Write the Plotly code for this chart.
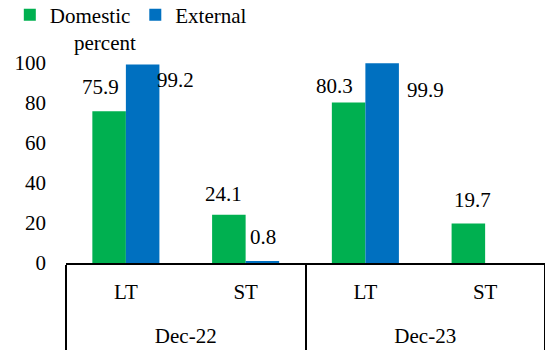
import plotly.graph_objects as go

periods = ["Dec-22", "Dec-22", "Dec-23", "Dec-23"]
terms = ["LT", "ST", "LT", "ST"]
domestic = [75.9, 24.1, 80.3, 19.7]
external = [99.2, 0.8, 99.9, None]
series_names = ["Domestic", "External"]
y_ticks = [0, 20, 40, 60, 80, 100]

GREEN = "#00B050"
BLUE = "#0070C0"
FONT = "Liberation Serif"
FS = 21

# extra blank line under the inner labels to space the outer level like the original
term_labels = [t + "<br> " for t in terms]

fig = go.Figure()
fig.add_trace(go.Bar(x=[periods, term_labels], y=domestic, name=series_names[0],
                     marker=dict(color=GREEN, line=dict(width=0))))
fig.add_trace(go.Bar(x=[periods, term_labels], y=external, name=series_names[1],
                     marker=dict(color=BLUE, line=dict(width=0))))

# label offsets (pixels) relative to category centre / bar top
g_dx = [-25, -22, -31, -13]
g_dy = [24, 21, 16, 24]
b_dx = [50, 17, 60, 0]
b_dy = [-15, 24, -27, 0]
n = len(terms)
ann = []
for i in range(n):
    ann.append(dict(x=(i + 0.5) / n, xref="paper", y=domestic[i], yref="y",
                    xanchor="center", yanchor="middle",
                    text=f"{domestic[i]:.1f}", showarrow=False,
                    xshift=g_dx[i], yshift=g_dy[i],
                    font=dict(family=FONT, size=FS, color="black")))
    if external[i] is not None:
        ann.append(dict(x=(i + 0.5) / n, xref="paper", y=external[i], yref="y",
                        xanchor="center", yanchor="middle",
                        text=f"{external[i]:.1f}", showarrow=False,
                        xshift=b_dx[i], yshift=b_dy[i],
                        font=dict(family=FONT, size=FS, color="black")))
ann.append(dict(x=(105 - 66) / 479, xref="paper", y=1.1, yref="paper",
                xanchor="center", yanchor="middle",
                text="percent", showarrow=False,
                font=dict(family=FONT, size=FS, color="black")))

fig.update_layout(
    width=545, height=352,
    margin=dict(l=66, r=0, t=63, b=89),
    paper_bgcolor="white", plot_bgcolor="white",
    font=dict(family=FONT, size=FS, color="black"),
    barmode="group", bargap=0.44, bargroupgap=0,
    showlegend=True,
    legend=dict(orientation="h", xref="container", yref="container",
                x=0.018, y=1 - 15 / 352, xanchor="left", yanchor="middle",
                font=dict(family=FONT, size=FS), itemwidth=30,
                bgcolor="rgba(0,0,0,0)", tracegroupgap=0),
    annotations=ann,
)
fig.update_yaxes(range=[0, 100], tickvals=y_ticks, showgrid=False,
                 zeroline=False, showline=False, ticks="",
                 ticklabelstandoff=19,
                 tickfont=dict(family=FONT, size=FS))
fig.update_xaxes(type="multicategory", showline=True, linecolor="black",
                 linewidth=2, showgrid=False, ticks="",
                 ticklabelstandoff=9,
                 showdividers=True, dividercolor="black", dividerwidth=2,
                 tickfont=dict(family=FONT, size=FS))

fig.write_html("out.html")
